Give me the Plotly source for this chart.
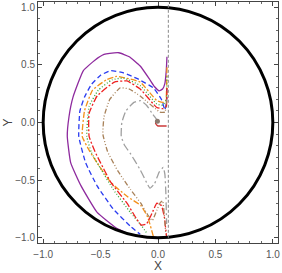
import plotly.graph_objects as go

# ---- data ----
purple_x = [0.078, 0.072, 0.060, 0.040, 0.010, -0.030, -0.070, -0.155, -0.250, -0.340, -0.420, -0.470, -0.550, -0.650, -0.740, -0.775, -0.790, -0.760, -0.670, -0.530, -0.370, -0.250]
purple_y = [0.570, 0.450, 0.340, 0.290, 0.275, 0.310, 0.370, 0.490, 0.570, 0.605, 0.600, 0.590, 0.540, 0.450, 0.220, 0.050, -0.120, -0.350, -0.550, -0.780, -0.910, -0.970]

blue_x = [0.075, 0.075, 0.060, 0.030, -0.040, -0.180, -0.300, -0.410, -0.500, -0.580, -0.640, -0.680, -0.690, -0.630, -0.530, -0.390, -0.240, -0.155]
blue_y = [0.300, 0.180, 0.110, 0.200, 0.300, 0.380, 0.430, 0.450, 0.410, 0.330, 0.220, 0.100, -0.120, -0.350, -0.550, -0.750, -0.900, -0.970]

orange_x = [0.078, 0.075, 0.068, 0.046, -0.010, -0.155, -0.300, -0.360, -0.450, -0.570, -0.640, -0.660, -0.600, -0.530, -0.410, -0.270, -0.150, -0.090, -0.040]
orange_y = [0.480, 0.300, 0.190, 0.175, 0.190, 0.350, 0.390, 0.400, 0.370, 0.280, 0.100, -0.120, -0.240, -0.350, -0.520, -0.640, -0.720, -0.820, -0.990]

green_x = [0.078, 0.072, 0.040, -0.010, -0.155, -0.300, -0.400, -0.520, -0.600, -0.620, -0.580, -0.500, -0.390, -0.240, -0.140, -0.090]
green_y = [0.400, 0.200, 0.150, 0.160, 0.320, 0.385, 0.370, 0.280, 0.140, -0.120, -0.260, -0.400, -0.580, -0.780, -0.900, -0.970]

red_x = [0.078, 0.072, 0.046, -0.010, -0.155, -0.270, -0.380, -0.530, -0.600, -0.600, -0.550, -0.500, -0.410, -0.270, -0.190, -0.146, -0.100, -0.040, -0.010, 0.030, 0.055, 0.068, 0.075]
red_y = [0.300, 0.140, 0.120, 0.130, 0.290, 0.360, 0.350, 0.230, 0.080, -0.120, -0.250, -0.350, -0.520, -0.700, -0.830, -0.890, -0.880, -0.760, -0.700, -0.720, -0.820, -0.930, -1.000]

hook_x = [-0.015, -0.020, 0.000, 0.040, 0.075]
hook_y = [0.020, -0.010, -0.030, -0.030, -0.030]

brown_x = [0.075, 0.060, 0.017, -0.155, -0.250, -0.330, -0.420, -0.470, -0.480, -0.440, -0.350, -0.240, -0.150, -0.090, -0.050, -0.010, 0.017, 0.040, 0.055, 0.068]
brown_y = [0.200, 0.090, 0.090, 0.230, 0.290, 0.300, 0.200, 0.050, -0.100, -0.250, -0.420, -0.580, -0.700, -0.800, -0.850, -0.760, -0.700, -0.680, -0.800, -0.970]

gray_x = [0.000, -0.045, -0.100, -0.150, -0.210, -0.280, -0.315, -0.320, -0.290, -0.240, -0.155, -0.100, -0.070, -0.030, 0.010, 0.046, 0.060, 0.068, 0.072, 0.075]
gray_y = [0.010, 0.070, 0.150, 0.190, 0.175, 0.100, 0.000, -0.120, -0.200, -0.270, -0.410, -0.520, -0.570, -0.530, -0.430, -0.390, -0.450, -0.600, -0.750, -0.880]

dot_x = [-0.005]
dot_y = [0.010]

line_x = 0.09
tick_vals = [-1.0, -0.5, 0.0, 0.5, 1.0]
tick_text = ["\u22121.0", "\u22120.5", "0.0", "0.5", "1.0"]
x_title = "X"
y_title = "Y"

fig = go.Figure()

def add(x, y, color, dash, width=1.3):
    fig.add_trace(go.Scatter(x=x, y=y, mode="lines",
                             line=dict(color=color, dash=dash, width=width, shape="spline", smoothing=0.4),
                             showlegend=False, hoverinfo="skip"))

add(purple_x, purple_y, "#8e2a9e", "solid")
add(blue_x, blue_y, "#2a3cf0", "5px,3px")
add(orange_x, orange_y, "#f39019", "6px,2px,2px,2px")
add(green_x, green_y, "#3aa83a", "1px,2px")
add(red_x, red_y, "#ee2020", "7px,2px,2px,2px")
add(brown_x, brown_y, "#a8825a", "5px,2px,1px,2px,1px,2px")
add(gray_x, gray_y, "#a0a0a0", "8px,3px,2px,3px")
add(hook_x, hook_y, "#cc3a3a", "solid", 1.5)

fig.add_trace(go.Scatter(x=dot_x, y=dot_y, mode="markers",
                         marker=dict(color="#8a7a70", size=5),
                         showlegend=False, hoverinfo="skip"))

# unit circle
fig.add_shape(type="circle", xref="x", yref="y", x0=-1, y0=-1, x1=1, y1=1,
              line=dict(color="black", width=3))
# vertical dashed line
fig.add_shape(type="line", xref="x", yref="y", x0=line_x, x1=line_x, y0=-1.0, y1=1.04,
              line=dict(color="#888888", width=1, dash="3px,2px"))

axis_common = dict(
    range=[-1.045, 1.045], showgrid=False, zeroline=False,
    showline=True, linecolor="#444444", linewidth=1, mirror="ticks",
    ticks="inside", ticklen=4, tickcolor="#444444", tickwidth=1,
    tickvals=tick_vals, ticktext=tick_text,
    tickfont=dict(family="Liberation Sans, Arial, sans-serif", size=10, color="#555555"),
    minor=dict(dtick=0.1, ticks="inside", ticklen=2, tickcolor="#666666"),
    automargin=False,
)

fig.update_xaxes(**axis_common, ticklabelstandoff=2)
fig.update_yaxes(**axis_common)

title_font = dict(family="Liberation Sans, Arial, sans-serif", size=12, color="#444444")
fig.add_annotation(text=x_title, xref="paper", yref="paper", x=0.5, y=0,
                   showarrow=False, font=title_font, xanchor="center", yanchor="top",
                   yshift=-15, borderpad=0)
fig.add_annotation(text=y_title, xref="paper", yref="paper", x=0, y=0.5,
                   showarrow=False, font=title_font, textangle=-90,
                   xanchor="right", yanchor="middle", xshift=-23, borderpad=0)

fig.update_layout(
    width=282, height=273,
    margin=dict(l=38, r=4, t=2, b=30),
    paper_bgcolor="white", plot_bgcolor="white",
)

fig.write_html("out.html", config={"displayModeBar": False},
               post_script="document.body.style.margin='0px';")
